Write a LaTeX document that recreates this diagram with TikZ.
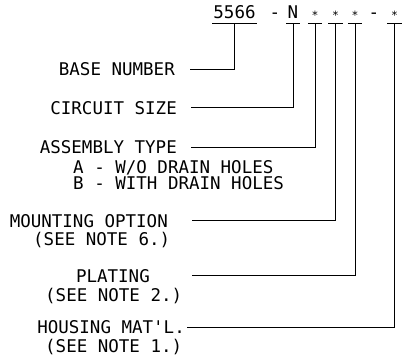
\documentclass[tikz,border=0pt]{standalone}
\usepackage{fontspec}
\newfontfamily\cadfont{DejaVu Sans Mono}
\newcommand{\wild}{\raisebox{-1pt}{\scalebox{0.65}{*}}}

\begin{document}
\begin{tikzpicture}[
    x=1pt, y=-1pt,
    every node/.style={font=\cadfont\fontsize{17.5}{20}\selectfont,
        inner sep=0pt, text height=13pt, text depth=0pt},
    field/.style={anchor=base, minimum width=14pt, text depth=4.5pt},
    lead/.style={line width=0.9pt},
]
\useasboundingbox (0,0) rectangle (402,360);

% --- Part number ---
\node[field, minimum width=44pt] (pBase) at (234.5,18.5) {5566};
\node[anchor=base] (pDashA) at (275,18.5) {-};
\node[field, minimum width=13pt] (pCircuit) at (293,18.5) {N};
\node[field] (pAssembly) at (315,18.5) {\wild};
\node[field] (pMounting) at (335.5,18.5) {\wild};
\node[field] (pPlating) at (355,18.5) {\wild};
\node[anchor=base] (pDashB) at (374,18.5) {-};
\node[field] (pHousing) at (394.5,18.5) {\wild};

% underlines
\foreach \f in {pBase,pCircuit,pAssembly,pMounting,pPlating,pHousing}
    \draw[lead] (\f.south west) -- (\f.south east);

% --- Labels ---
\node[anchor=east] (lBase) at (175,69) {BASE NUMBER};
\node[anchor=east] (lCircuit) at (177,107.5) {CIRCUIT SIZE};
\node[anchor=east] (lAssembly) at (177,147) {ASSEMBLY TYPE};
\node[anchor=west] (lAssemblyA) at (73,166.5) {A - W/O DRAIN HOLES};
\node[anchor=west] (lAssemblyB) at (73,183) {B - WITH DRAIN HOLES};
\node[anchor=east] (lMounting) at (168,220.5) {MOUNTING OPTION};
\node[anchor=west] (lMountingNote) at (33,238.5) {(SEE NOTE 6.)};
\node[anchor=east] (lPlating) at (150,275.5) {PLATING};
\node[anchor=west] (lPlatingNote) at (45,295) {(SEE NOTE 2.)};
\node[anchor=east] (lHousing) at (185,327) {HOUSING MAT'L.};
\node[anchor=west] (lHousingNote) at (45,346) {(SEE NOTE 1.)};

% --- Leaders ---
\draw[lead] (pBase.south) |- ([xshift=15pt]lBase.east);
\draw[lead] (pCircuit.south) |- ([xshift=14pt]lCircuit.east);
\draw[lead] (pAssembly.south) |- ([xshift=14pt]lAssembly.east);
\draw[lead] (pMounting.south) |- ([xshift=24pt]lMounting.east);
\draw[lead] (pPlating.south) |- ([xshift=42pt]lPlating.east);
\draw[lead] (pHousing.south) |- ([xshift=2pt]lHousing.east);

\end{tikzpicture}
\end{document}
